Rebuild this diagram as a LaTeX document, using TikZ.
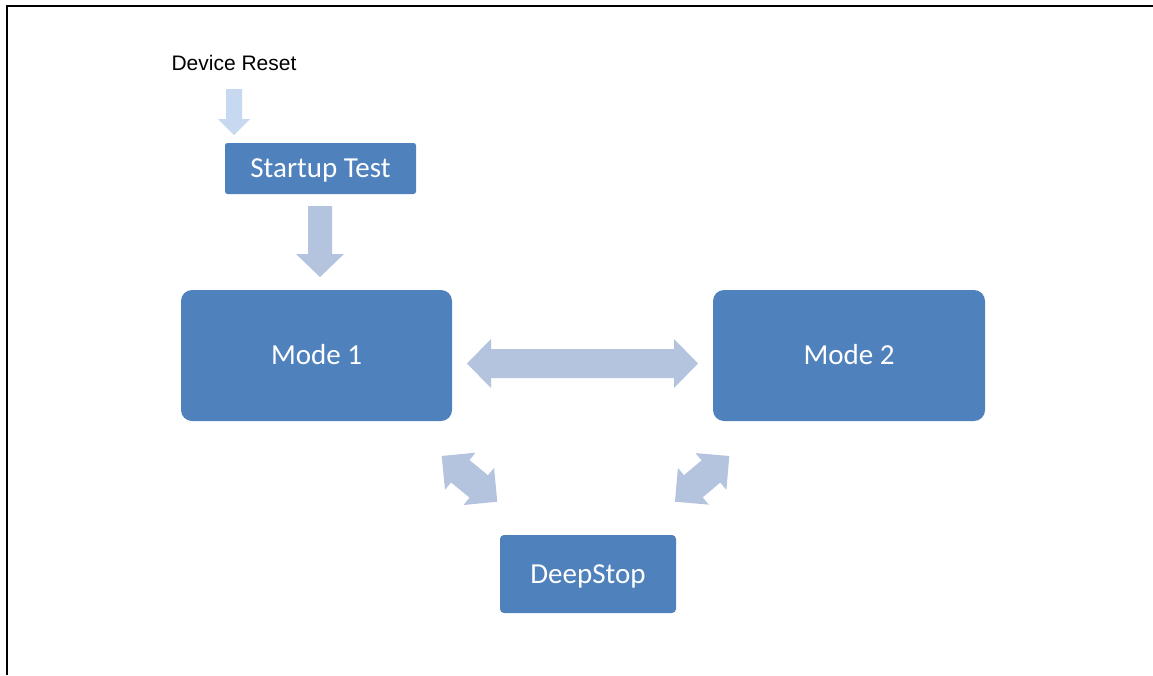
\documentclass[tikz,border=0pt]{standalone}
\usepackage{fontspec}
\setmainfont{Carlito}
\newfontfamily\arialfont{Liberation Sans}
\usetikzlibrary{calc}
\definecolor{boxblue}{HTML}{4F81BD}
\definecolor{arrowblue}{RGB}{180,196,222}
\definecolor{lightarrow}{RGB}{198,217,241}
\tikzset{
  blk/.style={fill=boxblue, text=white, font=\fontsize{29}{34}\selectfont, inner sep=0pt,
    text height=18.7pt, text depth=0pt, anchor=center},
  bigarrow/.style={fill=arrowblue},
  smallarrow/.style={fill=lightarrow},
}
% single block arrow: #1 style, #2 tail, #3 tip, #4 shaft half width, #5 head half width, #6 head length
\newcommand\sglarrow[6]{%
  \coordinate (hb) at ($(#3)!#6pt!(#2)$);
  \fill[#1] ($(#2)!#4pt!90:(#3)$) -- ($(hb)!#4pt!-90:(#2)$) -- ($(hb)!#5pt!-90:(#2)$) -- (#3)
    -- ($(hb)!#5pt!90:(#2)$) -- ($(hb)!#4pt!90:(#2)$) -- ($(#2)!#4pt!-90:(#3)$) -- cycle;}
% double block arrow: #1 style, #2 tip, #3 tip, #4 shaft half, #5 head half, #6 head length
\newcommand\dblarrow[6]{%
  \coordinate (ha) at ($(#2)!#6pt!(#3)$);
  \coordinate (hb) at ($(#3)!#6pt!(#2)$);
  \fill[#1] (#2) -- ($(ha)!#5pt!90:(#3)$) -- ($(ha)!#4pt!90:(#3)$) -- ($(hb)!#4pt!-90:(#2)$)
    -- ($(hb)!#5pt!-90:(#2)$) -- (#3) -- ($(hb)!#5pt!90:(#2)$) -- ($(hb)!#4pt!90:(#2)$)
    -- ($(ha)!#4pt!-90:(#3)$) -- ($(ha)!#5pt!-90:(#3)$) -- cycle;}
\begin{document}
\begin{tikzpicture}[x=1pt,y=-1pt]
\useasboundingbox (0,0) rectangle (1153,675);
\fill[white] (0,0) rectangle (1153,675);
\draw[line width=2pt] (7,675) -- (7,6) -- (1153,6);

\node[font=\arialfont\fontsize{21}{25}\selectfont, anchor=base, inner sep=0pt] (dr) at (234,70) {Device Reset};
\node[blk, rounded corners=2.5pt, minimum width=191pt, minimum height=51pt] (st) at (320.5,168.5) {Startup Test};
\node[blk, rounded corners=11pt, minimum width=271pt, minimum height=131pt] (m1) at (316.5,355.5) {Mode 1};
\node[blk, rounded corners=11pt, minimum width=272pt, minimum height=131pt] (m2) at (849,355.5) {Mode 2};
\node[blk, rounded corners=4pt, minimum width=176pt, minimum height=78pt] (ds) at (588,574) {DeepStop};

\coordinate (r1) at (234,89);
\coordinate (r2) at (234,135);
\sglarrow{smallarrow}{r1}{r2}{8}{16}{16}

\coordinate (s1) at (320,206);
\coordinate (s2) at (320,277);
\sglarrow{bigarrow}{s1}{s2}{12}{24}{23}

\coordinate (h1) at (467,363.5);
\coordinate (h2) at (698,363.5);
\dblarrow{bigarrow}{h1}{h2}{14.5}{24.5}{24}

\coordinate (l1) at (441.7,456);
\coordinate (l2) at (497.3,501.7);
\dblarrow{bigarrow}{l1}{l2}{14.5}{24}{24}

\coordinate (q1) at (729.3,456);
\coordinate (q2) at (675,501.7);
\dblarrow{bigarrow}{q1}{q2}{14.5}{24}{24}
\end{tikzpicture}
\end{document}
